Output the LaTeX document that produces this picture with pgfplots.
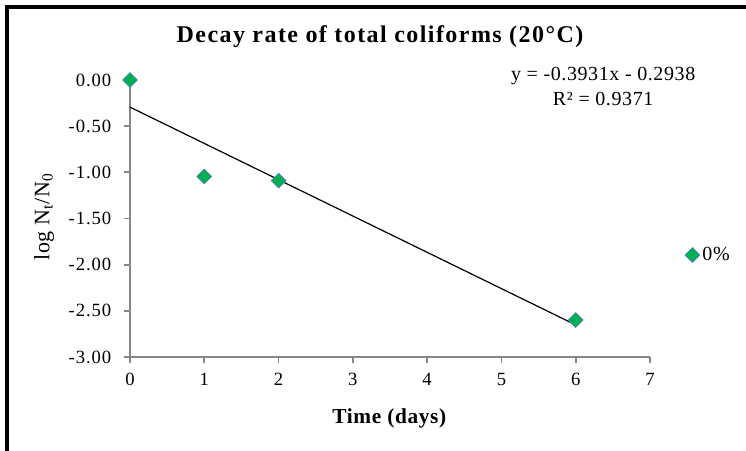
\documentclass[border=0pt]{standalone}
\usepackage{pgfplots}
\pgfplotsset{compat=1.18}
\usepackage{fontspec}
\setmainfont{Liberation Serif}
\newfontfamily\widefont[LetterSpace=5]{Liberation Serif}
\newfontfamily\midfont[LetterSpace=3]{Liberation Serif}
\newfontfamily\titlefont[LetterSpace=6]{Liberation Serif}
\definecolor{axgray}{RGB}{134,134,134}
\definecolor{mkgreen}{RGB}{0,176,80}
\definecolor{mkblue}{RGB}{79,129,189}
\begin{document}
\begin{tikzpicture}
\useasboundingbox (0,0) rectangle (559.5pt,337.5pt);
\draw[black, line width=3pt] (5.25pt,-5pt) -- (5.25pt,332.25pt) -- (570pt,332.25pt);
\begin{axis}[
  at={(97.5pt,69.75pt)}, anchor=south west,
  scale only axis, width=390pt, height=207.75pt,
  xmin=0, xmax=7, ymin=-3, ymax=0,
  xtick={0,1,...,7}, ytick={-3,-2.5,...,0},
  axis x line*=bottom, axis y line*=left,
  axis line style={axgray, line width=1.3pt, -},
  tick style={axgray, line width=1.3pt},
  tick align=outside, major tick length=4.5pt,
  /pgf/number format/assume math mode=true,
  yticklabel={\pgfmathprintnumber[fixed,zerofill,precision=2]{\tick}},
  xticklabel={\pgfmathprintnumber[fixed,precision=0]{\tick}},
  tick label style={font=\widefont\fontsize{14}{16}\selectfont, black},
  xticklabel style={yshift=-4pt},
  yticklabel style={xshift=-6pt},
  clip=false,
  legend style={at={(1.067,0.368)}, anchor=west, draw=none, fill=none,
    font=\midfont\fontsize{15}{17}\selectfont, inner sep=0pt},
  legend cell align=left,
  legend image code/.code={\draw[mark repeat=2,mark phase=2] plot coordinates {(0cm,0cm) (0.15cm,0cm) (0.3cm,0cm)};},
]
\addplot[only marks, mark=square*, mark size=3.9pt,
  mark options={rotate=45, fill=mkgreen, draw=mkblue, line width=0.6pt}]
  coordinates {(0,0) (1,-1.045) (2,-1.09) (6,-2.60)};
\addlegendentry{0\%}
\addplot[black, line width=0.9pt, forget plot] coordinates {(0,-0.2938) (6,-2.6524)};
\node[align=center, font=\midfont\fontsize{15}{18.5}\selectfont] at (axis cs:6.37,-0.07)
  {y = -0.3931x - 0.2938\\R² = 0.9371};
\end{axis}
\node[font=\titlefont\bfseries\fontsize{18}{20}\selectfont] at (285pt,309.75pt) {Decay rate of total coliforms (20°C)};
\node[font=\midfont\bfseries\fontsize{16}{18}\selectfont] at (292pt,24pt) {Time (days)};
\node[rotate=90, font=\midfont\fontsize{16.5}{18}\selectfont] at (33pt,174.75pt) {log N\textsubscript{t}/N\textsubscript{0}};
\end{tikzpicture}
\end{document}
